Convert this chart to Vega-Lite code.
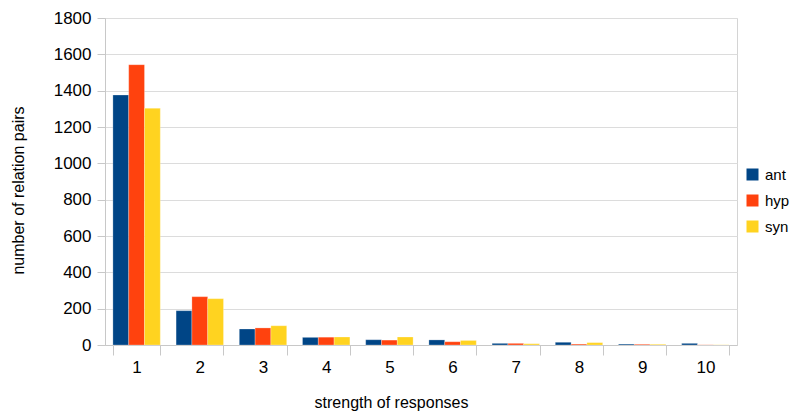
{
  "$schema": "https://vega.github.io/schema/vega-lite/v6.json",
  "width": 632,
  "height": 327,
  "autosize": {"type": "none"},
  "padding": {"left": 105, "top": 18, "right": 58, "bottom": 69},
  "background": "white",
  "config": {
    "font": "Liberation Sans",
    "view": {"stroke": "#d4d4d4", "strokeWidth": 1},
    "axis": {"labelFont": "Liberation Sans", "titleFont": "Liberation Sans", "labelColor": "#000", "titleColor": "#000", "domainColor": "#c8c8c8", "tickColor": "#c8c8c8", "gridColor": "#dcdcdc"}
  },
  "data": {
    "values": [
      {"strength": 1, "type": "ant", "count": 1376},
      {"strength": 1, "type": "hyp", "count": 1543},
      {"strength": 1, "type": "syn", "count": 1303},
      {"strength": 2, "type": "ant", "count": 189},
      {"strength": 2, "type": "hyp", "count": 266},
      {"strength": 2, "type": "syn", "count": 255},
      {"strength": 3, "type": "ant", "count": 88},
      {"strength": 3, "type": "hyp", "count": 94},
      {"strength": 3, "type": "syn", "count": 106},
      {"strength": 4, "type": "ant", "count": 42},
      {"strength": 4, "type": "hyp", "count": 43},
      {"strength": 4, "type": "syn", "count": 44},
      {"strength": 5, "type": "ant", "count": 29},
      {"strength": 5, "type": "hyp", "count": 27},
      {"strength": 5, "type": "syn", "count": 44},
      {"strength": 6, "type": "ant", "count": 28},
      {"strength": 6, "type": "hyp", "count": 18},
      {"strength": 6, "type": "syn", "count": 25},
      {"strength": 7, "type": "ant", "count": 9},
      {"strength": 7, "type": "hyp", "count": 9},
      {"strength": 7, "type": "syn", "count": 7},
      {"strength": 8, "type": "ant", "count": 15},
      {"strength": 8, "type": "hyp", "count": 5},
      {"strength": 8, "type": "syn", "count": 13},
      {"strength": 9, "type": "ant", "count": 5},
      {"strength": 9, "type": "hyp", "count": 4},
      {"strength": 9, "type": "syn", "count": 4},
      {"strength": 10, "type": "ant", "count": 9},
      {"strength": 10, "type": "hyp", "count": 1},
      {"strength": 10, "type": "syn", "count": 1}
    ]
  },
  "mark": {"type": "bar", "stroke": "white", "strokeWidth": 0.5, "strokeOpacity": 0.5},
  "encoding": {
    "x": {
      "field": "strength", "type": "ordinal",
      "scale": {"paddingInner": 0.25, "paddingOuter": 0.125},
      "axis": {"title": "strength of responses", "labelAngle": 0, "labelFontSize": 17, "titleFontSize": 16, "titleFontWeight": "normal", "tickBand": "extent", "tickSize": 10, "labelPadding": 4, "titleX": 286, "titleY": 57, "titleBaseline": "middle", "titleAlign": "center"}
    },
    "xOffset": {"field": "type", "type": "nominal", "scale": {"paddingInner": 0, "paddingOuter": 0}},
    "y": {
      "field": "count", "type": "quantitative",
      "scale": {"domain": [0, 1800]},
      "axis": {"title": "number of relation pairs", "format": "d", "values": [0,200,400,600,800,1000,1200,1400,1600,1800], "labelFontSize": 17, "titleFontSize": 16, "titleFontWeight": "normal", "tickSize": 8, "labelPadding": 6, "titleX": -87, "titleY": 172, "titleBaseline": "middle", "titleAlign": "center", "titleAngle": -90, "grid": true}
    },
    "color": {
      "field": "type", "type": "nominal",
      "scale": {"domain": ["ant", "hyp", "syn"], "range": ["#004586", "#ff420e", "#ffd320"]},
      "legend": {"title": null, "orient": "none", "legendX": 640, "legendY": 149, "symbolType": "square", "symbolSize": 144, "symbolStrokeWidth": 0, "labelFontSize": 15, "rowPadding": 10, "labelOffset": 5}
    }
  }
}
